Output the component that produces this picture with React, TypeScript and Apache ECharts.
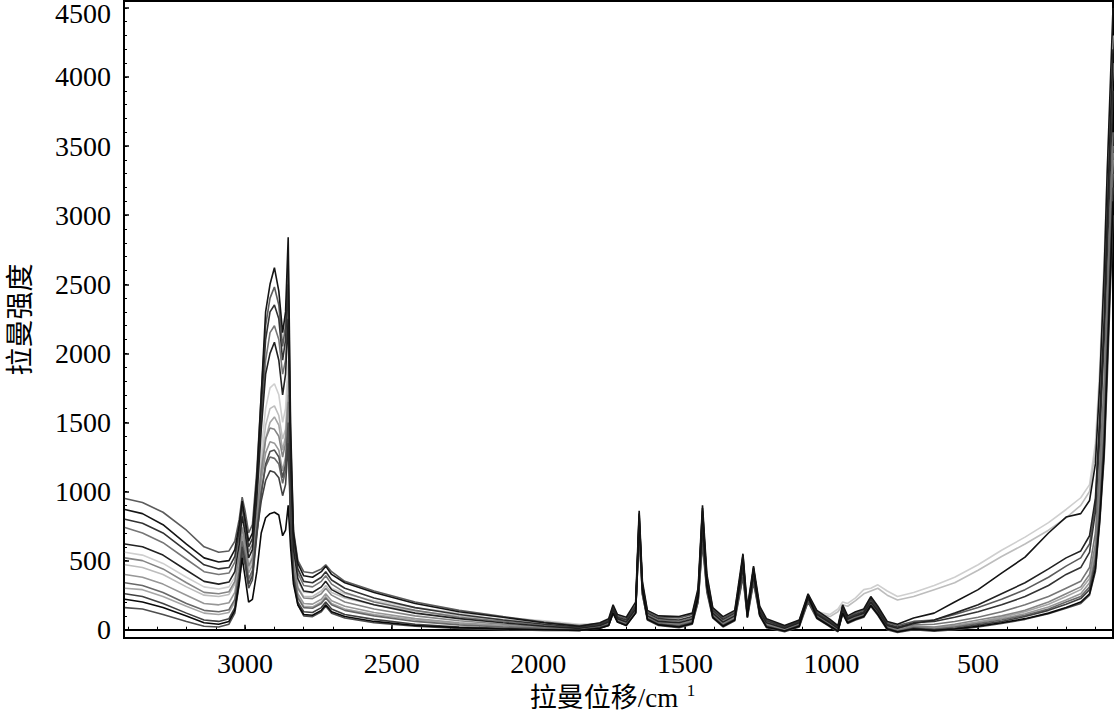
import React, { useEffect, useRef } from "react";
import * as echarts from "echarts";

// Raman shift grid (cm-1), descending
const WAVENUMBER = [
  3410, 3350, 3280, 3200, 3140, 3090, 3055, 3035, 3020, 3010,
  3000, 2988, 2975, 2960, 2945, 2930, 2915, 2900, 2885, 2872,
  2862, 2853, 2845, 2835, 2820, 2800, 2770, 2740, 2725, 2705,
  2660, 2560, 2420, 2270, 2120, 1980, 1860, 1790, 1760, 1745,
  1730, 1700, 1668, 1656, 1645, 1628, 1590, 1520, 1475, 1455,
  1440, 1425, 1405, 1370, 1330, 1302, 1287, 1266, 1245, 1222,
  1160, 1110, 1080, 1050, 1005, 978, 962, 945, 918, 890,
  866, 842, 810, 775, 720, 650, 580, 500, 420, 340,
  260, 200, 150, 120, 100, 85, 70, 60, 50, 40,
];

const SPEC_01 = [
  870, 840, 760, 620, 520, 490, 500, 580, 760, 930,
  800, 640, 700, 1100, 1700, 2300, 2500, 2620, 2450, 2150,
  2300, 2840, 1500, 700, 480, 390, 380, 420, 460, 400,
  340, 270, 190, 130, 90, 50, 25, 50, 80, 180,
  110, 90, 200, 860, 350, 140, 100, 95, 120, 300,
  900, 400, 160, 95, 140, 550, 160, 460, 170, 80,
  30, 70, 260, 140, 75, 30, 180, 100, 130, 150,
  240, 170, 60, 40, 85, 120, 200, 290, 410, 525,
  700, 815, 840, 935, 1200, 1800, 2600, 3300, 3900, 4500,
];
const SPEC_02 = [
  950, 920, 850, 720, 600, 560, 570, 640, 800, 960,
  860, 700, 760, 1150, 1700, 2200, 2400, 2480, 2350, 2050,
  2200, 2650, 1400, 720, 500, 420, 410, 440, 470, 420,
  350, 280, 200, 140, 95, 55, 30, 45, 70, 170,
  100, 80, 180, 820, 330, 130, 90, 85, 110, 280,
  860, 380, 150, 85, 130, 520, 150, 440, 160, 70,
  25, 65, 250, 130, 65, 25, 170, 90, 120, 140,
  230, 160, 50, 30, 60, 70, 110, 160, 220, 290,
  380, 460, 520, 620, 900, 1500, 2200, 2900, 3500, 4100,
];
const SPEC_03 = [
  800, 770, 700, 570, 470, 440, 450, 530, 720, 900,
  780, 600, 660, 1050, 1600, 2100, 2300, 2350, 2250, 1950,
  2100, 2500, 1300, 650, 440, 350, 340, 380, 420, 360,
  300, 230, 160, 110, 70, 40, 20, 40, 65, 160,
  90, 70, 170, 800, 320, 120, 80, 70, 95, 270,
  820, 360, 140, 75, 120, 500, 140, 430, 150, 65,
  20, 60, 240, 120, 60, 20, 160, 85, 110, 130,
  220, 150, 40, 20, 50, 60, 90, 130, 180, 240,
  320, 400, 450, 560, 850, 1400, 2100, 2700, 3300, 3900,
];
const SPEC_04 = [
  740, 700, 630, 510, 420, 400, 410, 490, 680, 860,
  740, 560, 620, 1000, 1500, 1950, 2150, 2200, 2100, 1850,
  1950, 2350, 1250, 620, 410, 320, 310, 350, 390, 330,
  270, 200, 140, 90, 60, 30, 15, 35, 60, 150,
  85, 60, 160, 780, 300, 110, 70, 60, 85, 250,
  780, 340, 130, 65, 110, 470, 130, 410, 140, 55,
  15, 55, 230, 115, 55, 15, 150, 80, 105, 125,
  210, 140, 35, 10, 35, 40, 60, 90, 130, 180,
  240, 300, 350, 450, 700, 1200, 1800, 2400, 3000, 3600,
];
const SPEC_05 = [
  620, 600, 540, 430, 350, 330, 345, 420, 620, 820,
  700, 520, 580, 950, 1450, 1850, 2000, 2080, 1950, 1700,
  1850, 2250, 1200, 580, 370, 280, 270, 310, 350, 290,
  240, 180, 120, 80, 50, 25, 10, 30, 55, 145,
  80, 55, 150, 760, 290, 100, 60, 50, 75, 240,
  740, 320, 120, 55, 100, 450, 120, 390, 130, 50,
  10, 50, 225, 110, 50, 10, 145, 75, 100, 120,
  200, 135, 30, 10, 45, 70, 120, 180, 260, 340,
  440, 520, 570, 680, 950, 1550, 2250, 2950, 3600, 4200,
];
const SPEC_06 = [
  560, 540, 480, 380, 310, 295, 310, 380, 560, 760,
  650, 480, 540, 880, 1300, 1600, 1750, 1780, 1700, 1500,
  1600, 1950, 1100, 540, 350, 270, 270, 310, 350, 300,
  260, 210, 160, 120, 90, 65, 40, 45, 60, 130,
  75, 55, 140, 700, 270, 95, 60, 50, 70, 220,
  700, 300, 115, 55, 100, 420, 115, 370, 125, 50,
  20, 70, 230, 130, 110, 150, 200, 190, 230, 290,
  300, 325, 280, 240, 270, 320, 380, 470, 575, 670,
  775, 870, 955, 1050, 1350, 1900, 2700, 3300, 3800, 4300,
];
const SPEC_07 = [
  470, 450, 400, 310, 250, 240, 255, 330, 520, 720,
  610, 440, 500, 820, 1200, 1480, 1600, 1620, 1550, 1380,
  1450, 1800, 1000, 500, 310, 240, 240, 280, 320, 270,
  230, 180, 135, 100, 75, 50, 30, 40, 55, 125,
  70, 50, 130, 680, 260, 90, 55, 45, 65, 210,
  680, 290, 110, 50, 95, 400, 110, 360, 120, 45,
  15, 60, 220, 120, 95, 130, 180, 170, 210, 260,
  280, 300, 250, 215, 240, 290, 340, 430, 530, 620,
  720, 810, 900, 1000, 1300, 1800, 2500, 3100, 3600, 4100,
];
const SPEC_08 = [
  520, 500, 440, 340, 270, 260, 275, 350, 540, 740,
  630, 460, 520, 840, 1150, 1380, 1460, 1450, 1400, 1250,
  1350, 1650, 950, 480, 300, 230, 225, 260, 300, 250,
  200, 150, 100, 65, 40, 20, 10, 30, 50, 140,
  75, 50, 140, 740, 280, 95, 55, 40, 65, 230,
  720, 310, 110, 45, 90, 440, 110, 380, 125, 40,
  5, 45, 220, 105, 45, 5, 140, 70, 95, 115,
  195, 130, 25, 0, 25, 20, 40, 70, 100, 140,
  200, 260, 310, 400, 620, 1100, 1700, 2300, 2900, 3500,
];
const SPEC_09 = [
  400, 380, 330, 250, 190, 180, 195, 270, 470, 680,
  580, 410, 470, 780, 1080, 1280, 1360, 1350, 1300, 1150,
  1250, 1550, 900, 440, 260, 190, 185, 220, 260, 210,
  170, 125, 80, 50, 30, 15, 5, 25, 45, 135,
  70, 45, 135, 720, 270, 90, 50, 35, 60, 220,
  690, 300, 105, 40, 85, 420, 105, 370, 120, 35,
  0, 40, 215, 100, 40, 0, 135, 65, 90, 110,
  190, 125, 20, -5, 20, 15, 30, 55, 80, 115,
  165, 215, 260, 340, 560, 1000, 1600, 2200, 2800, 3400,
];
const SPEC_10 = [
  340, 320, 270, 190, 140, 130, 145, 220, 420, 640,
  540, 370, 430, 740, 1000, 1180, 1250, 1240, 1200, 1060,
  1150, 1450, 850, 410, 230, 160, 155, 190, 230, 180,
  140, 100, 60, 35, 20, 10, 0, 20, 40, 130,
  65, 40, 130, 700, 260, 85, 45, 30, 55, 210,
  650, 290, 100, 35, 80, 400, 100, 360, 115, 30,
  -5, 35, 210, 95, 35, -5, 130, 60, 85, 105,
  185, 120, 15, -10, 15, 5, 20, 45, 70, 105,
  150, 200, 240, 310, 520, 900, 1500, 2100, 2700, 3300,
];
const SPEC_11 = [
  260, 240, 190, 120, 70, 60, 80, 160, 380, 600,
  500, 330, 390, 700, 930, 1080, 1150, 1140, 1100, 970,
  1050, 1350, 800, 380, 200, 130, 125, 160, 200, 150,
  110, 75, 40, 20, 10, 0, -5, 15, 35, 125,
  60, 35, 125, 760, 280, 80, 40, 25, 50, 230,
  740, 300, 95, 30, 75, 470, 95, 400, 110, 25,
  -10, 30, 230, 90, 30, -10, 125, 55, 80, 100,
  180, 115, 10, -15, 10, 0, 10, 35, 60, 95,
  140, 185, 225, 290, 480, 850, 1400, 2000, 2600, 3200,
];
const SPEC_12 = [
  220, 200, 160, 100, 50, 40, 60, 140, 340, 520,
  380, 200, 220, 420, 700, 810, 840, 850, 830, 680,
  720, 900, 600, 330, 180, 110, 105, 140, 180, 130,
  95, 60, 30, 15, 5, 0, -5, 10, 30, 120,
  55, 30, 120, 840, 300, 75, 35, 20, 45, 240,
  880, 320, 90, 25, 70, 540, 90, 450, 105, 20,
  -10, 25, 250, 85, 25, -10, 120, 50, 75, 95,
  175, 110, 5, -15, 5, -5, 5, 25, 50, 80,
  120, 160, 200, 260, 440, 800, 1300, 1900, 2500, 3100,
];
const SPEC_13 = [
  160, 150, 110, 60, 25, 20, 40, 120, 330, 560,
  470, 300, 360, 680, 980, 1200, 1290, 1300, 1250, 1100,
  1200, 1500, 820, 360, 180, 100, 95, 130, 170, 120,
  85, 50, 25, 10, 0, -5, -5, 10, 30, 120,
  55, 30, 120, 720, 260, 70, 30, 15, 40, 200,
  620, 270, 85, 20, 65, 380, 85, 340, 100, 15,
  -15, 20, 200, 80, 20, -15, 115, 45, 70, 90,
  170, 105, 0, -20, 0, -10, 0, 20, 45, 75,
  115, 155, 190, 250, 420, 780, 1250, 1800, 2400, 3000,
];
const SPEC_14 = [
  300, 290, 240, 170, 120, 110, 125, 200, 400, 620,
  520, 350, 410, 720, 1100, 1380, 1500, 1540, 1480, 1300,
  1400, 1700, 930, 430, 240, 170, 165, 200, 240, 190,
  150, 110, 70, 45, 25, 10, 0, 20, 40, 130,
  65, 40, 130, 680, 250, 80, 40, 25, 50, 200,
  640, 280, 95, 30, 75, 390, 95, 350, 110, 25,
  -5, 30, 205, 90, 30, -5, 125, 55, 80, 100,
  180, 115, 10, -10, 10, 5, 25, 55, 90, 130,
  185, 240, 290, 370, 600, 1050, 1650, 2250, 2850, 3450,
];

// drawing order (light first, dark last) and grey shades
const SPECTRA = [SPEC_06, SPEC_07, SPEC_14, SPEC_09, SPEC_08, SPEC_04, SPEC_10, SPEC_02, SPEC_13, SPEC_11, SPEC_03, SPEC_05, SPEC_12, SPEC_01];
const SHADES = ["#cfcfcf", "#bdbdbd", "#a6a6a6", "#979797", "#858585", "#767676", "#686868", "#5c5c5c", "#4e4e4e", "#404040", "#333333", "#222222", "#0a0a0a", "#151515"];

const X_TICKS = [500, 1000, 1500, 2000, 2500, 3000];
const Y_TICKS = [0, 500, 1000, 1500, 2000, 2500, 3000, 3500, 4000, 4500];
const X_MIN = 40;
const X_MAX = 3413;
const Y_MIN = -60;
const Y_MAX = 4550;

const X_MINOR: number[] = [];
for (let v = 100; v <= 3400; v += 100) X_MINOR.push(v);
const Y_MINOR: number[] = [];
for (let v = 0; v <= 4500; v += 100) Y_MINOR.push(v);

const FONT_NUM = "Liberation Serif";
const FONT_MIX = "Liberation Serif, Noto Sans CJK SC";
const FONT_CJK = "Noto Sans CJK SC";

export default function App() {
  const ref = useRef<HTMLDivElement>(null);
  useEffect(() => {
    if (!ref.current) return;
    const chart = echarts.init(ref.current, null, { renderer: "svg" });
    const series = SPECTRA.map((spec, i) => ({
      type: "line",
      xAxisIndex: 0,
      yAxisIndex: 0,
      showSymbol: false,
      symbol: "none",
      clip: true,
      lineStyle: { color: SHADES[i], width: 1.6 },
      data: WAVENUMBER.map((w, j) => [w, spec[j]]),
      z: 2 + i,
    }));
    const plainX = (v: number) => String(v);
    const topY = Y_TICKS[Y_TICKS.length - 1];
    const plainY = (v: number) => (v === topY ? "{top|" + v + "}" : String(v));
    chart.setOption({
      animation: false,
      backgroundColor: "#ffffff",
      textStyle: { fontFamily: FONT_NUM },
      grid: {
        left: 124,
        right: 1,
        top: 1,
        bottom: 79,
        show: true,
        containLabel: false,
        outerBoundsMode: "none",
        borderColor: "#000",
        borderWidth: 2,
        backgroundColor: "transparent",
      },
      xAxis: [
        {
          type: "value",
          inverse: true,
          min: X_MIN,
          max: X_MAX,
          position: "bottom",
          name: "{a|拉曼位移/cm}{s|  1}",
          nameLocation: "middle",
          nameGap: 44,
          nameTextStyle: {
            padding: [0, 12, 0, 0],
            rich: {
              a: { fontFamily: FONT_MIX, fontSize: 27, color: "#000" },
              s: { fontFamily: FONT_NUM, fontSize: 17, color: "#000", verticalAlign: "top", padding: [0, 0, 14, 0] },
            },
          },
          axisLine: { show: true, lineStyle: { color: "#000", width: 2 } },
          axisTick: { show: true, inside: true, length: 5, customValues: X_TICKS, lineStyle: { color: "#000", width: 1.5 } },
          axisLabel: {
            show: true,
            customValues: X_TICKS,
            formatter: plainX,
            fontFamily: FONT_NUM,
            fontSize: 28,
            color: "#000",
            margin: 11,
          },
          splitLine: { show: false },
        },
        {
          type: "value",
          inverse: true,
          min: X_MIN,
          max: X_MAX,
          position: "bottom",
          axisLine: { show: false },
          axisTick: { show: true, inside: true, length: 3, customValues: X_MINOR, lineStyle: { color: "#000", width: 1 } },
          axisLabel: { show: false },
          splitLine: { show: false },
        },
      ],
      yAxis: [
        {
          type: "value",
          min: Y_MIN,
          max: Y_MAX,
          position: "left",
          name: "拉曼强度",
          nameLocation: "middle",
          nameGap: 92,
          nameRotate: 90,
          nameTextStyle: { fontFamily: FONT_CJK, fontSize: 28, color: "#000" },
          axisLine: { show: true, lineStyle: { color: "#000", width: 2 } },
          axisTick: { show: true, inside: true, length: 5, customValues: Y_TICKS, lineStyle: { color: "#000", width: 1.5 } },
          axisLabel: {
            show: true,
            customValues: Y_TICKS,
            formatter: plainY,
            fontFamily: FONT_NUM,
            fontSize: 28,
            color: "#000",
            margin: 13,
            rich: {
              top: { fontFamily: FONT_NUM, fontSize: 28, color: "#000", padding: [12, 0, 0, 0] },
            },
          },
          splitLine: { show: false },
        },
        {
          type: "value",
          min: Y_MIN,
          max: Y_MAX,
          position: "left",
          axisLine: { show: false },
          axisTick: { show: true, inside: true, length: 3, customValues: Y_MINOR, lineStyle: { color: "#000", width: 1 } },
          axisLabel: { show: false },
          splitLine: { show: false },
        },
      ],
      series,
    });
    return () => chart.dispose();
  }, []);
  return (
    <div
      ref={ref}
      style={{ position: "fixed", left: 0, top: 0, width: 1114, height: 717, background: "#fff" }}
    />
  );
}
